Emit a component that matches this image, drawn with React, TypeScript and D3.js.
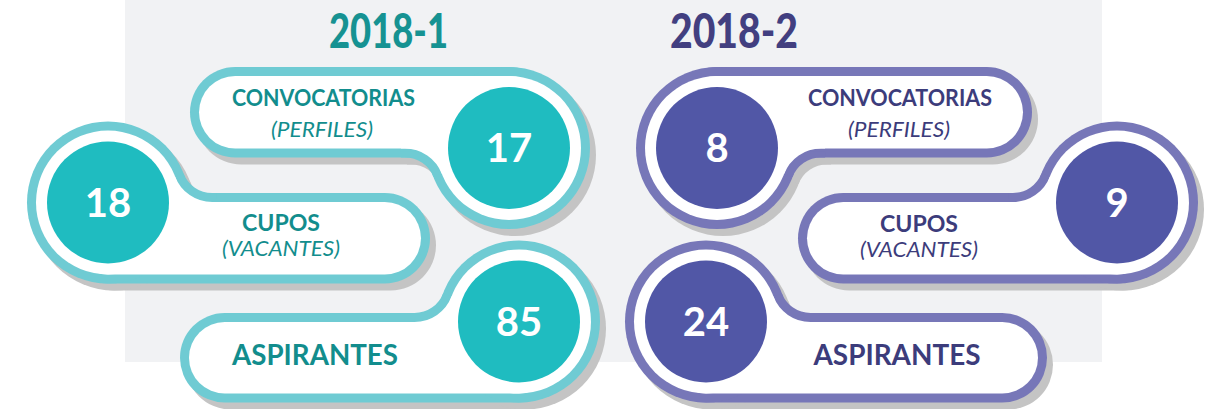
import React from 'react';
import * as d3 from 'd3';

// ---- data ----
const periods = ['2018-1', '2018-2'];
const metricLabels = ['CONVOCATORIAS', 'CUPOS', 'ASPIRANTES'];
const metricSubLabels = ['(PERFILES)', '(VACANTES)', ''];
const values2018_1 = [17, 18, 85];
const values2018_2 = [8, 9, 24];
const periodValues = [values2018_1, values2018_2];

// ---- layout / style ----
const W = 1211;
const H = 409;
const STROKE = 9;
const R_MID = 76.5;
const R_FILL = 61;
const FILLET = 35;
const SHADOW = { dx: 6, dy: 7, color: '#c4c4c4' };

const color = d3
  .scaleOrdinal<string, { stroke: string; fill: string; text: string; title: string }>()
  .domain(periods)
  .range([
    { stroke: '#6fcbd3', fill: '#1fbcc0', text: '#128d8d', title: '#169292' },
    { stroke: '#7777b8', fill: '#5157a6', text: '#3c3c7b', title: '#423f80' },
  ]);

const rows = [
  { yt: 71.5, yb: 153 },
  { yt: 197.5, yb: 279 },
  { yt: 317.5, yb: 398 },
];

const titleLayout = [
  { x: 388.5, y: 48, w: 119 },
  { x: 734, y: 48, w: 128 },
];

type Item = {
  cx: number;
  side: 'left' | 'right';
  protrude: 'up' | 'down';
  xFar: number;
  labelX: number;
  labelY: number;
  subX: number;
  subY: number;
  labelSize: number;
  labelW: number;
  subW: number;
};

const itemLayout: Item[][] = [
  [
    { cx: 509, side: 'right', protrude: 'down', xFar: 194.5, labelX: 323.5, labelY: 106, subX: 322, subY: 137, labelSize: 22, labelW: 183, subW: 102 },
    { cx: 108, side: 'left', protrude: 'up', xFar: 425.5, labelX: 281, labelY: 231, subX: 281, subY: 256, labelSize: 22, labelW: 78, subW: 118 },
    { cx: 519, side: 'right', protrude: 'up', xFar: 184.5, labelX: 315, labelY: 365, subX: 0, subY: 0, labelSize: 28, labelW: 166, subW: 0 },
  ],
  [
    { cx: 717, side: 'left', protrude: 'down', xFar: 1027.5, labelX: 900, labelY: 106, subX: 899, subY: 137, labelSize: 22, labelW: 184, subW: 102 },
    { cx: 1117, side: 'right', protrude: 'up', xFar: 802.5, labelX: 919, labelY: 232, subX: 919, subY: 257, labelSize: 22, labelW: 78, subW: 118 },
    { cx: 706, side: 'left', protrude: 'up', xFar: 1042.5, labelX: 897, labelY: 365, subX: 0, subY: 0, labelSize: 28, labelW: 167, subW: 0 },
  ],
];

function geometry(it: Item, row: { yt: number; yb: number }, o: number) {
  const cy = it.protrude === 'down' ? row.yt + R_MID : row.yb - R_MID;
  const r = (row.yb - row.yt) / 2;
  const xa = it.side === 'right' ? it.xFar : it.cx - r;
  const xb = it.side === 'right' ? it.cx + r : it.xFar;
  const rect = { x: xa - o, y: row.yt - o, w: xb - xa + 2 * o, h: row.yb - row.yt + 2 * o, rx: r + o };
  const circle = { cx: it.cx, cy, r: R_MID + o };

  // fillet between pill edge and circle on the protruding side
  const s = it.protrude === 'up' ? -1 : 1; // outward direction of that edge
  const yl = (it.protrude === 'up' ? row.yt : row.yb) + s * o;
  const fy = (it.protrude === 'up' ? row.yt : row.yb) + s * FILLET;
  const dy = fy - cy;
  const dx = Math.sqrt((R_MID + FILLET) ** 2 - dy * dy);
  const dir = it.side === 'left' ? 1 : -1;
  const fx = it.cx + dir * dx;
  const k = (R_MID + o) / (R_MID + FILLET);
  const tc = [it.cx + (fx - it.cx) * k, cy + (fy - cy) * k];
  const tl = [fx, yl];
  const ax = tl[0] - fx, ay = tl[1] - fy, bx = tc[0] - fx, by = tc[1] - fy;
  const sweep = ax * by - ay * bx > 0 ? 1 : 0;
  const fr = FILLET - o;
  const p = d3.path();
  p.moveTo(tl[0] + dir * 4, tl[1]);
  p.lineTo(tl[0], tl[1]);
  const a0 = Math.atan2(ay, ax);
  const a1 = Math.atan2(by, bx);
  p.arc(fx, fy, fr, a0, a1, sweep === 0);
  p.lineTo(it.cx, cy);
  p.lineTo(it.cx, yl - s * 6);
  p.lineTo(tl[0] + dir * 4, yl - s * 6);
  p.closePath();
  return { rect, circle, fillet: p.toString(), cy };
}

function Shape({ g, fill }: { g: ReturnType<typeof geometry>; fill: string }) {
  return (
    <g fill={fill}>
      <rect x={g.rect.x} y={g.rect.y} width={g.rect.w} height={g.rect.h} rx={g.rect.rx} ry={g.rect.rx} />
      <circle cx={g.circle.cx} cy={g.circle.cy} r={g.circle.r} />
      <path d={g.fillet} />
    </g>
  );
}

export default function App() {
  const font = "Lato, 'Open Sans', sans-serif";
  return (
    <svg
      width={W}
      height={H}
      viewBox={`0 0 ${W} ${H}`}
      style={{ position: 'absolute', left: 0, top: 0, display: 'block' }}
    >
      <rect x={0} y={0} width={W} height={H} fill="#ffffff" />
      <rect x={125} y={0} width={977} height={362} fill="#f1f2f4" />

      {periods.map((period, pi) => (
        <text
          key={period}
          x={titleLayout[pi].x - titleLayout[pi].w / 2}
          y={titleLayout[pi].y}
          textLength={titleLayout[pi].w}
          lengthAdjust="spacingAndGlyphs"
          fontFamily={font}
          fontWeight={900}
          fontSize={47}
          fill={color(period).title}
        >
          {period}
        </text>
      ))}

      {[0, 1, 2].map((ri) =>
        periods.map((period, pi) => {
          const it = itemLayout[pi][ri];
          const row = rows[ri];
          const th = color(period);
          const outer = geometry(it, row, STROKE / 2);
          const inner = geometry(it, row, -STROKE / 2);
          const value = periodValues[pi][ri];
          return (
            <g key={`${period}-${ri}`}>
              <g transform={`translate(${SHADOW.dx},${SHADOW.dy})`}>
                <Shape g={outer} fill={SHADOW.color} />
              </g>
              <Shape g={outer} fill={th.stroke} />
              <Shape g={inner} fill="#ffffff" />
              <circle cx={it.cx} cy={outer.cy} r={R_FILL} fill={th.fill} />
              <text
                x={it.cx}
                y={outer.cy + 14}
                textAnchor="middle"
                fontFamily={font}
                fontWeight={700}
                fontSize={40}
                fill="#ffffff"
              >
                {value}
              </text>
              <text
                x={it.labelX - it.labelW / 2}
                y={it.labelY}
                textLength={it.labelW}
                lengthAdjust="spacingAndGlyphs"
                fontFamily={font}
                fontWeight={700}
                fontSize={it.labelSize}
                fill={th.text}
              >
                {metricLabels[ri]}
              </text>
              {metricSubLabels[ri] && (
                <text
                  x={it.subX - it.subW / 2}
                  y={it.subY}
                  textLength={it.subW}
                  lengthAdjust="spacingAndGlyphs"
                  fontFamily={font}
                  fontStyle="italic"
                  fontWeight={400}
                  fontSize={20.5}
                  fill={th.text}
                >
                  {metricSubLabels[ri]}
                </text>
              )}
            </g>
          );
        })
      )}
    </svg>
  );
}
